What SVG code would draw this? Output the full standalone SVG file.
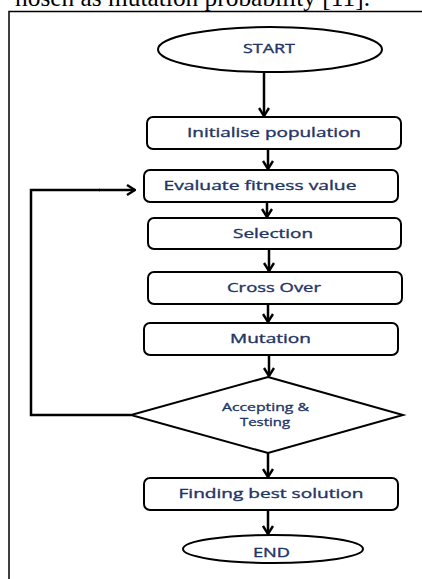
<svg xmlns="http://www.w3.org/2000/svg" width="422" height="579" viewBox="0 0 422 579">
  <defs>
    <marker id="arrow" viewBox="0 0 10 12" refX="9" refY="6" markerWidth="10" markerHeight="12" markerUnits="userSpaceOnUse" orient="auto">
      <path d="M1,1 L9,6 L1,11" fill="none" stroke="#000" stroke-width="2.4"/>
    </marker>
  </defs>
  <style>
    .shape { fill: #fff; stroke: #000; stroke-width: 2; }
    .label { font-family: "Open Sans", "Liberation Sans", sans-serif; font-size: 12.5px; font-weight: 400; fill: #1f3566; stroke: #1f3566; stroke-width: 0.35; text-anchor: middle; dominant-baseline: central; }
    .small { font-size: 11.5px; }
    .edge { fill: none; stroke: #000; stroke-width: 2.5; marker-end: url(#arrow); }
    .loop { fill: none; stroke: #000; stroke-width: 2.5; }
    .caption { font-family: "Liberation Serif", "Times New Roman", serif; font-size: 25px; fill: #000; }
  </style>

  <rect width="422" height="579" fill="#fff"/>

  <!-- running text above the figure -->
  <text class="caption" x="15" y="6" textLength="355" lengthAdjust="spacingAndGlyphs">hosen as mutation probability [11].</text>

  <!-- figure frame -->
  <path d="M9,590 L9,11.5 L430,11.5" fill="none" stroke="#000" stroke-width="1.5"/>

  <!-- connectors -->
  <g id="connectors">
    <line class="edge" x1="264" y1="72" x2="264" y2="116"/>
    <line class="edge" x1="268" y1="149" x2="268" y2="169"/>
    <line class="edge" x1="267" y1="202" x2="267" y2="217"/>
    <line class="edge" x1="269" y1="249" x2="269" y2="271"/>
    <line class="edge" x1="268" y1="304" x2="268" y2="322"/>
    <line class="edge" x1="269" y1="355" x2="269" y2="376"/>
    <line class="edge" x1="268" y1="453" x2="268" y2="477"/>
    <line class="edge" x1="268" y1="510" x2="268" y2="534"/>
    <!-- loop back from the test to fitness evaluation -->
    <polyline class="loop" points="131,415 31,415 31,190 100,190"/>
    <line class="edge" x1="99" y1="190" x2="135" y2="190"/>
  </g>

  <g id="start">
    <ellipse class="shape" cx="270" cy="49.5" rx="112" ry="22.5"/>
    <text class="label" x="269" y="48.5" textLength="52" lengthAdjust="spacingAndGlyphs">START</text>
  </g>

  <g id="init">
    <rect class="shape" x="147" y="117" width="254" height="32" rx="6"/>
    <text class="label" x="274" y="132" textLength="174" lengthAdjust="spacingAndGlyphs">Initialise population</text>
  </g>

  <g id="evaluate">
    <rect class="shape" x="144" y="170" width="254" height="32" rx="6"/>
    <text class="label" x="260" y="185.5" textLength="193" lengthAdjust="spacingAndGlyphs">Evaluate fitness value</text>
  </g>

  <g id="selection">
    <rect class="shape" x="148" y="218" width="253" height="31" rx="6"/>
    <text class="label" x="273" y="233.5" textLength="80" lengthAdjust="spacingAndGlyphs">Selection</text>
  </g>

  <g id="crossover">
    <rect class="shape" x="148" y="272" width="254" height="32" rx="6"/>
    <text class="label" x="274" y="287" textLength="94" lengthAdjust="spacingAndGlyphs">Cross Over</text>
  </g>

  <g id="mutation">
    <rect class="shape" x="144" y="323" width="254" height="32" rx="6"/>
    <text class="label" x="270.5" y="338.5" textLength="81" lengthAdjust="spacingAndGlyphs">Mutation</text>
  </g>

  <g id="accept">
    <polygon class="shape" points="268,377 403,415 268,453 131,415"/>
    <text class="label small" x="265.5" y="406.5" textLength="87" lengthAdjust="spacingAndGlyphs">Accepting &amp;</text>
    <text class="label small" x="265" y="421" textLength="50" lengthAdjust="spacingAndGlyphs">Testing</text>
  </g>

  <g id="best">
    <rect class="shape" x="144" y="478" width="254" height="32" rx="6"/>
    <text class="label" x="271" y="493.5" textLength="185" lengthAdjust="spacingAndGlyphs">Finding best solution</text>
  </g>

  <g id="end">
    <ellipse class="shape" cx="273" cy="549" rx="90" ry="14"/>
    <text class="label" x="271.5" y="552" textLength="37" lengthAdjust="spacingAndGlyphs">END</text>
  </g>
</svg>
